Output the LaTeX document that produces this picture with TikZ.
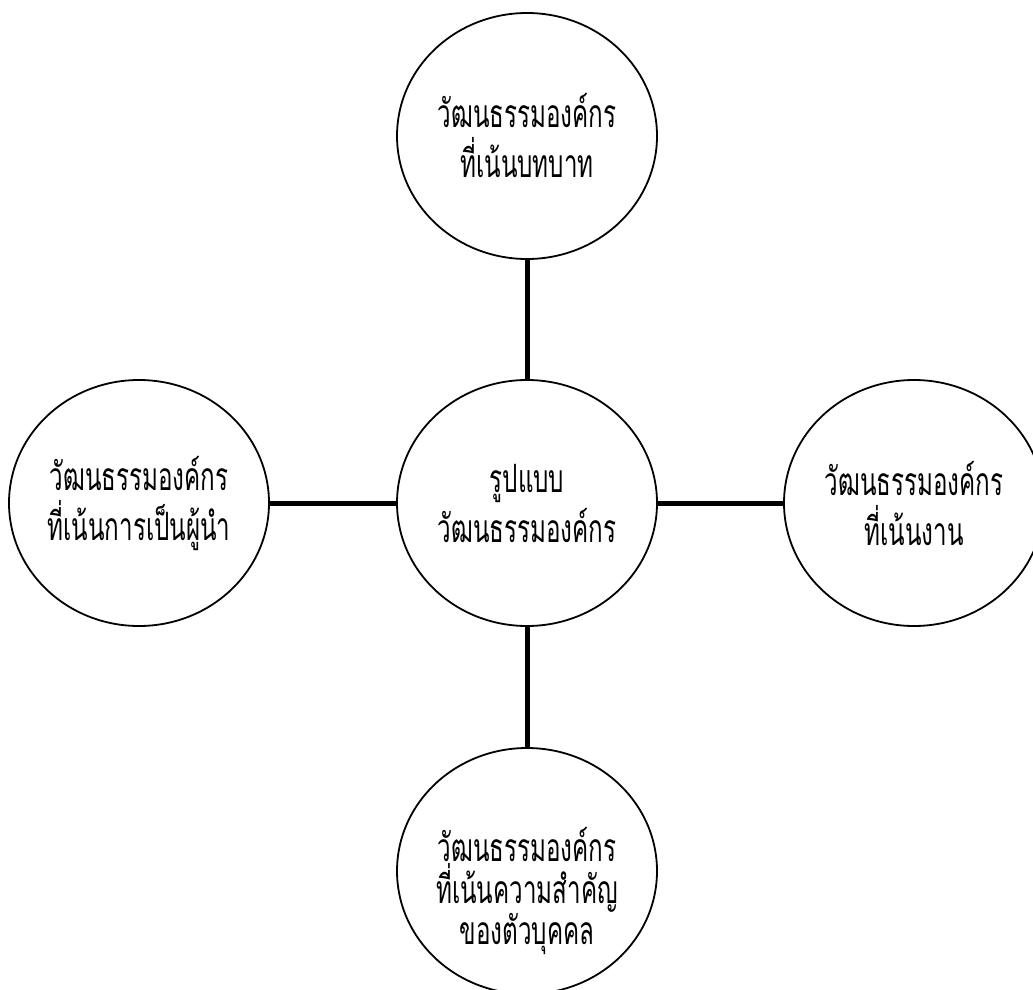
\documentclass[tikz,border=0pt]{standalone}
\usepackage{fontspec}
\newfontfamily\thaifont[Script=Thai,FakeStretch=0.62]{Loma}
\usetikzlibrary{shapes.geometric}
\begin{document}
\begin{tikzpicture}[x=1pt,y=-1pt,
  bubble/.style={draw=black,line width=1.8pt,ellipse,inner sep=0pt,minimum width=260pt,minimum height=246pt},
  label2/.style={font=\thaifont\fontsize{39}{50}\selectfont,align=center,inner sep=0pt},
  label3/.style={font=\thaifont\fontsize{39}{40}\selectfont,align=center,inner sep=0pt},
  link/.style={line width=5pt}]
\useasboundingbox (0,0) rectangle (1033,990);
\begin{scope}
\clip (0,0) rectangle (1033,990);
\node[bubble,label2] (top) at (527,136) {วัฒนธรรมองค์กร\\ที่เน้นบทบาท};
\node[bubble,label2] (mid) at (527,503) {รูปแบบ\\วัฒนธรรมองค์กร};
\node[bubble,label2] (left) at (139,503) {วัฒนธรรมองค์กร\\ที่เน้นการเป็นผู้นำ};
\node[bubble,label2] (right) at (914,503) {วัฒนธรรมองค์กร\\ที่เน้นงาน};
\node[bubble] (bot) at (527,871) {};
\node[label3] (bottext) at (527,891) {วัฒนธรรมองค์กร\\ที่เน้นความสำคัญ\\ของตัวบุคคล};
\end{scope}
\draw[link] (top.south) -- (mid.north);
\draw[link] (mid.south) -- (bot.north);
\draw[link] (left.east) -- (mid.west);
\draw[link] (mid.east) -- (right.west);
\end{tikzpicture}
\end{document}
